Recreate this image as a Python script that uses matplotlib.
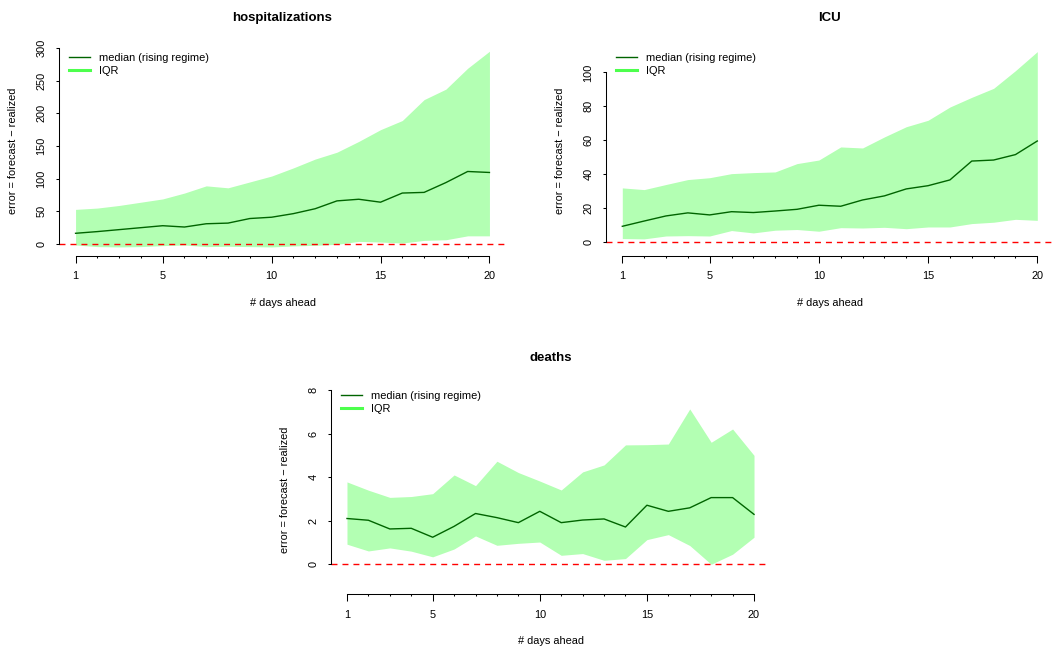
# -*- coding: utf-8 -*-
import numpy as np
import matplotlib.pyplot as plt
from matplotlib.lines import Line2D

# ====================== 1. data ======================
days = list(range(1, 21))

hosp_median = [16.4, 19, 22, 25, 28, 26, 31, 32, 39, 41,
               46.5, 54, 66, 68.5, 64, 78, 79, 94, 111, 109.5]
hosp_lower = [-1.5, -4, -4.5, -4, -2.5, -1.5, -4, -3.5, -4, -4.5,
              -3, -2, -0.5, 4, 3, 1.5, 5.5, 6.5, 12.5, 12.5]
hosp_upper = [53, 55, 59, 64, 69, 78, 89, 86, 95, 104,
              116.5, 130, 140.5, 157, 175, 189, 221, 237, 269, 295]

icu_median = [9.4, 12.5, 15.5, 17.3, 16.1, 18, 17.5, 18.4, 19.4, 21.8,
              21.2, 24.9, 27.3, 31.4, 33.3, 36.7, 47.8, 48.4, 51.6, 59.6]
icu_lower = [2.2, 2.0, 3.7, 3.9, 3.7, 6.9, 5.5, 7.1, 7.5, 6.5,
             8.6, 8.4, 8.8, 8.0, 9.0, 9.0, 11.0, 11.8, 13.5, 12.9]
icu_upper = [32, 31, 34, 36.9, 38, 40.4, 41, 41.4, 46.3, 48.4,
             56.1, 55.5, 62, 68, 71.8, 79.6, 85.3, 90.6, 101, 112.2]

deaths_median = [2.1, 2.02, 1.62, 1.65, 1.24, 1.74, 2.33, 2.14, 1.91, 2.43,
                 1.91, 2.03, 2.08, 1.71, 2.71, 2.43, 2.59, 3.06, 3.06, 2.29]
deaths_lower = [0.92, 0.61, 0.75, 0.60, 0.34, 0.70, 1.30, 0.87, 0.96, 1.02,
                0.41, 0.49, 0.18, 0.26, 1.13, 1.36, 0.86, 0.0, 0.46, 1.24]
deaths_upper = [3.78, 3.40, 3.07, 3.11, 3.24, 4.10, 3.61, 4.73, 4.21, 3.82,
                3.41, 4.24, 4.56, 5.48, 5.49, 5.52, 7.13, 5.60, 6.21, 5.00]

x_ticklabels = [1, 5, 10, 15, 20]

# ====================== 2. style / layout ======================
W, H = 1060, 650
median_color = '#006400'
iqr_fill = '#b3ffb3'
iqr_legend = '#4dff4d'
fs = 7.9

plt.rcParams['font.family'] = ['Liberation Sans', 'DejaVu Sans']
plt.rcParams['font.size'] = fs

panels = [
    # axes rect in px (left, top, right, bottom), leg_top in px
    dict(name='hospitalizations', med=hosp_median, lo=hosp_lower, hi=hosp_upper,
         yticks=np.arange(0, 301, 50), ylim=(-17.9, 304.6), rect=(59, 45, 506, 255.7), leg_top=53),
    dict(name='ICU', med=icu_median, lo=icu_lower, hi=icu_upper,
         yticks=np.arange(0, 101, 20), ylim=(-7.9, 116.1), rect=(605.7, 45, 1053.9, 255.7), leg_top=53),
    dict(name='deaths', med=deaths_median, lo=deaths_lower, hi=deaths_upper,
         yticks=np.arange(0, 9, 2), ylim=(-1.38, 8.23), rect=(330.7, 385, 770.3, 594.3), leg_top=391),
]


def draw_panel(fig, p):
    l, t, r, b = p['rect']
    ax = fig.add_axes([l / W, 1 - b / H, (r - l) / W, (b - t) / H])
    ax_h = b - t

    ax.fill_between(days, p['lo'], p['hi'], color=iqr_fill, lw=0)
    ax.plot(days, p['med'], color=median_color, lw=1.0)
    ax.axhline(0, color='red', lw=1.0, ls=(0, (4.3, 3.6)))

    ax.set_xlim(0.24, 20.76)
    ax.set_ylim(*p['ylim'])

    # R-like axes
    for s in ['top', 'right']:
        ax.spines[s].set_visible(False)
    ax.spines['left'].set_bounds(p['yticks'][0], p['yticks'][-1])
    ax.spines['bottom'].set_bounds(1, 20)
    ax.spines['left'].set_linewidth(0.75)
    ax.spines['bottom'].set_linewidth(0.75)

    ax.set_xticks(x_ticklabels)
    ax.set_xticks(days, minor=True)
    ax.tick_params(axis='x', which='major', length=4.7, width=0.75, pad=6.5)
    ax.tick_params(axis='x', which='minor', length=1.5, width=0.75)
    ax.set_yticks(p['yticks'])
    ax.set_yticklabels([str(v) for v in p['yticks']], rotation=90, va='center')
    ax.tick_params(axis='y', length=2.5, width=0.75, pad=6.5)

    ax.set_title(p['name'], fontsize=9.5, fontweight='bold', pad=17)
    ax.set_xlabel('# days ahead', va='center')
    ax.xaxis.set_label_coords(0.5, -47 / ax_h)
    ax.set_ylabel('error = forecast \u2212 realized', va='center')
    ax.yaxis.set_label_coords(-46 / (r - l), 0.5)

    handles = [Line2D([], [], color=median_color, lw=1.0),
               Line2D([], [], color=iqr_legend, lw=2.2)]
    ax.legend(handles, ['median (rising regime)', 'IQR'], loc='upper left',
              bbox_to_anchor=((l + 10) / W, 1 - p['leg_top'] / H), bbox_transform=fig.transFigure,
              frameon=False, borderpad=0, borderaxespad=0, handlelength=1.95,
              handletextpad=0.8, labelspacing=0.3)
    return ax


fig = plt.figure(figsize=(W / 100, H / 100), dpi=100)
for p in panels:
    draw_panel(fig, p)

plt.savefig('out.png', dpi=100)
